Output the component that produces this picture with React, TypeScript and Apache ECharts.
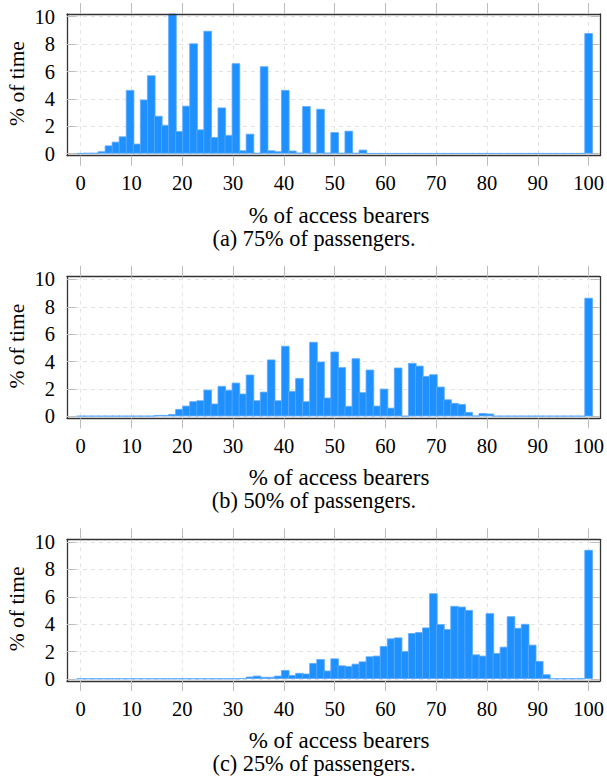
import React, { useEffect, useRef } from "react";
import * as echarts from "echarts";

// bin positions (% of access bearers)
const bins = [
  0, 1.39, 2.78, 4.17, 5.56, 6.94, 8.33, 9.72, 11.11, 12.5,
  13.89, 15.28, 16.67, 18.06, 19.44, 20.83, 22.22, 23.61, 25, 26.39,
  27.78, 29.17, 30.56, 31.94, 33.33, 34.72, 36.11, 37.5, 38.89, 40.28,
  41.67, 43.06, 44.44, 45.83, 47.22, 48.61, 50, 51.39, 52.78, 54.17,
  55.56, 56.94, 58.33, 59.72, 61.11, 62.5, 63.89, 65.28, 66.67, 68.06,
  69.44, 70.83, 72.22, 73.61, 75, 76.39, 77.78, 79.17, 80.56, 81.94,
  83.33, 84.72, 86.11, 87.5, 88.89, 90.28, 91.67, 93.06, 94.44, 95.83,
  97.22, 98.61, 100,
];

// (a) 75% of passengers
const timeA = [
  0.03, 0.05, 0.05, 0.17, 0.6, 0.87, 1.26, 4.65, 0.73, 3.95,
  5.72, 2.76, 2.1, 10.3, 1.65, 3.5, 8.05, 1.77, 8.97, 1.21,
  3.37, 1.36, 6.6, 0.24, 1.45, 0.05, 6.38, 0.24, 0.17, 4.65,
  0.22, 0.07, 3.47, 0.07, 3.27, 0.07, 1.57, 0.05, 1.67, 0.05,
  0.29, 0.03, 0.03, 0.03, 0.03, 0.03, 0.03, 0.03, 0.03, 0.03,
  0.03, 0.03, 0.03, 0.03, 0.03, 0.03, 0.03, 0.03, 0.03, 0.03,
  0.03, 0.03, 0.03, 0.03, 0.03, 0.03, 0.03, 0.03, 0.03, 0.03,
  0.03, 0.03, 8.8,
];

// (b) 50% of passengers
const timeB = [
  0.03, 0.03, 0.03, 0.03, 0.03, 0.03, 0.03, 0.03, 0.03, 0.03,
  0.03, 0.1, 0.1, 0.17, 0.54, 0.78, 1.1, 1.17, 1.95, 0.93,
  2.22, 1.93, 2.46, 1.66, 3.05, 1.17, 1.8, 4.15, 1.17, 5.15,
  1.85, 2.8, 1.1, 5.44, 4.0, 1.37, 4.73, 3.59, 0.76, 4.24,
  1.76, 3.41, 0.78, 2.02, 0.63, 3.56, 0.03, 3.9, 3.7, 2.95,
  3.07, 2.17, 1.24, 0.98, 0.9, 0.32, 0.05, 0.24, 0.2, 0.03,
  0.03, 0.03, 0.03, 0.03, 0.03, 0.03, 0.03, 0.03, 0.03, 0.03,
  0.03, 0.03, 8.66,
];

// (c) 25% of passengers
const timeC = [
  0.03, 0.03, 0.03, 0.03, 0.03, 0.03, 0.03, 0.03, 0.03, 0.03,
  0.03, 0.03, 0.03, 0.03, 0.03, 0.03, 0.03, 0.03, 0.03, 0.03,
  0.03, 0.03, 0.03, 0.05, 0.17, 0.24, 0.15, 0.15, 0.24, 0.65,
  0.29, 0.44, 0.39, 1.16, 1.45, 0.61, 1.5, 0.99, 0.94, 1.11,
  1.28, 1.65, 1.7, 2.4, 2.96, 3.03, 2.03, 3.35, 3.42, 3.76,
  6.26, 4.0, 3.64, 5.33, 5.28, 5.04, 1.79, 1.7, 4.8, 1.89,
  2.35, 4.58, 3.73, 4.02, 2.5, 1.31, 0.34, 0.03, 0.03, 0.03,
  0.03, 0.03, 9.43,
];

const xTicks = [0, 10, 20, 30, 40, 50, 60, 70, 80, 90, 100];
const yTicks = [0, 2, 4, 6, 8, 10];
const panels = [
  { values: timeA, caption: "(a) 75% of passengers." },
  { values: timeB, caption: "(b) 50% of passengers." },
  { values: timeC, caption: "(c) 25% of passengers." },
];
const xTitle = "% of access bearers";
const yTitle = "% of time";

const FONT = "Liberation Serif";

export default function App() {
  const ref = useRef<HTMLDivElement>(null);
  useEffect(() => {
    if (!ref.current) return;
    const chart = echarts.init(ref.current, null, { renderer: "svg" });
    const tops = [14, 276.7, 539.3];
    const gh = 141.7;
    const grids: any[] = [];
    const xAxes: any[] = [];
    const yAxes: any[] = [];
    const series: any[] = [];
    const graphics: any[] = [];
    const tickColor = "#bdbdbd";
    const gridLine = { show: true, lineStyle: { color: "#e4e4e4", type: [4, 4], width: 1 } };
    const boxLine = { show: true, onZero: false, lineStyle: { color: "#333", width: 1.3 } };
    const txt = (text: string, x: number, y: number, size: number, rot = 0) => ({
      type: "text", x, y, rotation: rot,
      style: { text, fontSize: size, fontFamily: FONT, fill: "#000", align: "center", verticalAlign: "middle" },
    });
    panels.forEach((p, i) => {
      grids.push({ left: 67, right: 5.3, top: tops[i], height: gh, containLabel: false });
      xAxes.push({
        type: "value", gridIndex: i, position: "bottom", min: -2.7, max: 102.2, splitNumber: 10,
        axisLine: boxLine,
        axisTick: { show: true, inside: false, length: 10, customValues: xTicks, lineStyle: { color: tickColor } },
        axisLabel: { customValues: xTicks, margin: 17, fontSize: 20.5, color: "#000", fontFamily: FONT },
        splitLine: gridLine,
      });
      xAxes.push({
        type: "value", gridIndex: i, position: "top", min: -2.7, max: 102.2, splitNumber: 10, z: 5,
        axisLine: boxLine,
        axisTick: { show: true, inside: false, length: 11, customValues: xTicks, lineStyle: { color: tickColor } },
        axisLabel: { show: false },
        splitLine: { show: false },
      });
      yAxes.push({
        type: "value", gridIndex: i, position: "left", min: -0.15, max: 10.2, splitNumber: 5,
        axisLine: boxLine,
        axisTick: { show: true, inside: true, length: 9, customValues: yTicks, lineStyle: { color: tickColor } },
        axisLabel: { customValues: yTicks, margin: 12, fontSize: 20.5, color: "#000", fontFamily: FONT },
        splitLine: gridLine,
      });
      yAxes.push({
        type: "value", gridIndex: i, position: "right", min: -0.15, max: 10.2, splitNumber: 5,
        axisLine: boxLine,
        axisTick: { show: true, inside: true, length: 9, customValues: yTicks, lineStyle: { color: tickColor } },
        axisLabel: { show: false },
        splitLine: { show: false },
      });
      series.push({
        type: "bar", xAxisIndex: i * 2, yAxisIndex: i * 2,
        data: bins.map((x, k) => [x, p.values[k]]),
        barWidth: 8.5,
        clip: true,
        itemStyle: { color: "#1E90FF", borderColor: "#5eabff", borderWidth: 0.8 },
      });
      const bottom = tops[i] + gh;
      graphics.push(txt(xTitle, 339, bottom + 59.5, 23));
      graphics.push(txt(p.caption, 314, bottom + 82.5, 22.3));
      graphics.push(txt(yTitle, 17, tops[i] + 69.5, 21.5, Math.PI / 2));
    });
    chart.setOption({
      animation: false,
      textStyle: { fontFamily: FONT },
      grid: grids,
      xAxis: xAxes,
      yAxis: yAxes,
      series,
      graphic: graphics,
    });
    return () => chart.dispose();
  }, []);
  return (
    <div
      ref={ref}
      style={{ position: "absolute", left: 0, top: 0, width: 607, height: 782, background: "#fff" }}
    />
  );
}
